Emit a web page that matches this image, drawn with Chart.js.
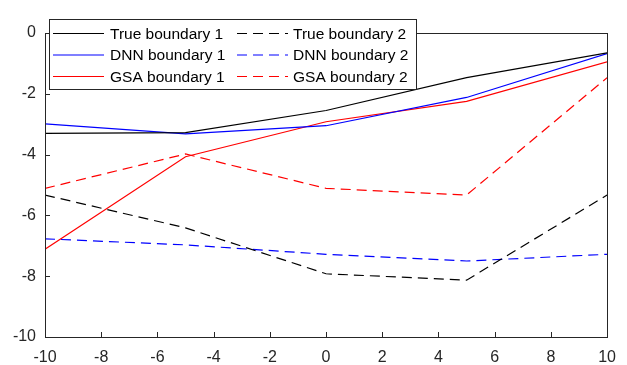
<!DOCTYPE html>
<html>
<head>
<meta charset="utf-8">
<script src="https://cdn.jsdelivr.net/npm/chart.js@4.4.1/dist/chart.umd.min.js"></script>
<style>
  html, body { margin: 0; padding: 0; background: #fff; }
  #wrap { width: 627px; height: 365px; }
</style>
</head>
<body>
<div id="wrap"><canvas id="chart" width="627" height="365"></canvas></div>
<script>
// x positions where the boundaries were sampled
const xVals = [-10, -5, 0, 5, 10];

const true1 = [-3.30, -3.28, -2.55, -1.47, -0.65];
const dnn1  = [-2.99, -3.32, -3.05, -2.12, -0.68];
const gsa1  = [-7.11, -4.07, -2.92, -2.25, -0.95];
const true2 = [-5.33, -6.41, -7.92, -8.13, -5.33];
const dnn2  = [-6.77, -6.97, -7.28, -7.50, -7.28];
const gsa2  = [-5.11, -3.98, -5.11, -5.33, -1.47];

const labels = ['True boundary 1', 'DNN boundary 1', 'GSA boundary 1',
                'True boundary 2', 'DNN boundary 2', 'GSA boundary 2'];
const series = [true1, dnn1, gsa1, true2, dnn2, gsa2];
const colors = ['#000000', '#0000ff', '#ff0000', '#000000', '#0000ff', '#ff0000'];
const dashed = [false, false, false, true, true, true];

const xTicks = [-10, -8, -6, -4, -2, 0, 2, 4, 6, 8, 10];
const yTicks = [-10, -8, -6, -4, -2, 0];

const DASH = [10, 6];
const AXIS_COLOR = '#262626';
const FONT = '"Liberation Sans", Arial, sans-serif';

function toPoints(ys) {
    return xVals.map((x, i) => ({ x: x, y: ys[i] }));
}

// box round the axes + inward ticks (matlab style)
const axesBox = {
    id: 'axesBox',
    afterDraw(chart) {
        const { ctx, chartArea: a, scales } = chart;
        ctx.save();
        ctx.strokeStyle = AXIS_COLOR;
        ctx.lineWidth = 1;
        ctx.strokeRect(Math.round(a.left) + 0.5, Math.round(a.top) + 0.5,
            Math.round(a.right - a.left), Math.round(a.bottom - a.top));
        ctx.beginPath();
        xTicks.forEach(v => {
            const px = Math.round(scales.x.getPixelForValue(v)) + 0.5;
            ctx.moveTo(px, a.bottom);
            ctx.lineTo(px, a.bottom - 5);
        });
        yTicks.forEach(v => {
            const py = Math.round(scales.y.getPixelForValue(v)) + 0.5;
            ctx.moveTo(a.left, py);
            ctx.lineTo(a.left + 5, py);
        });
        ctx.stroke();
        ctx.restore();
    }
};

// two-column legend, column by column
const boxLegend = {
    id: 'boxLegend',
    afterDraw(chart) {
        const ctx = chart.ctx;
        const bx = 49, by = 19, bw = 367, bh = 70;
        ctx.save();
        ctx.fillStyle = '#fff';
        ctx.fillRect(bx, by, bw, bh);
        ctx.strokeStyle = AXIS_COLOR;
        ctx.lineWidth = 1;
        ctx.strokeRect(bx + 0.5, by + 0.5, bw, bh);
        ctx.font = '15.5px ' + FONT;
        ctx.textBaseline = 'middle';
        chart.data.datasets.forEach((ds, i) => {
            const col = Math.floor(i / 3), row = i % 3;
            const lx = col === 0 ? 53 : 237;
            const tx = col === 0 ? 110 : 293;
            const y = 33.5 + row * 21.5;
            ctx.strokeStyle = ds.borderColor;
            ctx.lineWidth = 1.2;
            ctx.setLineDash(ds.borderDash || []);
            ctx.beginPath();
            ctx.moveTo(lx, y);
            ctx.lineTo(lx + 51, y);
            ctx.stroke();
            ctx.setLineDash([]);
            ctx.fillStyle = '#000';
            ctx.fillText(ds.label, tx, y + 1);
        });
        ctx.restore();
    }
};

new Chart(document.getElementById('chart'), {
    type: 'line',
    data: {
        datasets: series.map((s, i) => ({
            label: labels[i],
            data: toPoints(s),
            borderColor: colors[i],
            backgroundColor: colors[i],
            borderWidth: 1.2,
            borderDash: dashed[i] ? DASH : [],
            pointRadius: 0,
            tension: 0,
            fill: false
        }))
    },
    options: {
        responsive: false,
        animation: false,
        devicePixelRatio: 1,
        layout: { padding: { top: 33, right: 18, left: 0, bottom: 0 } },
        scales: {
            x: {
                type: 'linear',
                min: -10, max: 10,
                afterBuildTicks: s => { s.ticks = xTicks.map(v => ({ value: v })); },
                afterFit: s => { s.height = 28; },
                grid: { display: false, drawTicks: false },
                border: { display: false },
                ticks: { color: AXIS_COLOR, padding: 11, font: { family: FONT, size: 16 }, maxRotation: 0 }
            },
            y: {
                min: -10, max: 0,
                afterBuildTicks: s => { s.ticks = yTicks.map(v => ({ value: v })); },
                afterFit: s => { s.width = 45; },
                grid: { display: false, drawTicks: false },
                border: { display: false },
                ticks: { color: AXIS_COLOR, padding: 9, font: { family: FONT, size: 16 } }
            }
        },
        plugins: {
            legend: { display: false },
            tooltip: { enabled: false }
        }
    },
    plugins: [axesBox, boxLegend]
});
</script>
</body>
</html>
